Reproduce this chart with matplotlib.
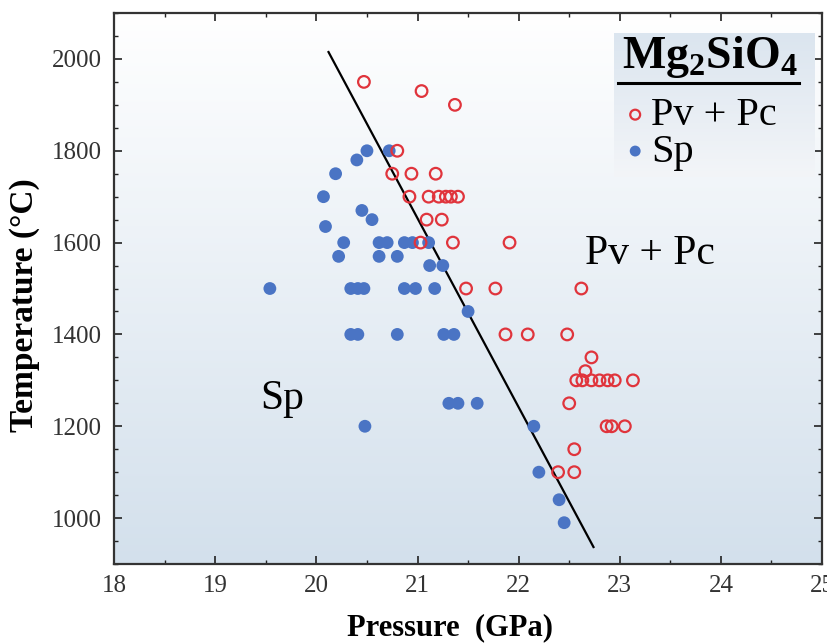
import matplotlib
matplotlib.use("Agg")
import matplotlib.pyplot as plt
import numpy as np
from matplotlib.colors import LinearSegmentedColormap
from matplotlib.ticker import MultipleLocator

plt.rcParams["font.family"] = ["Liberation Serif", "DejaVu Serif"]
plt.rcParams["mathtext.fontset"] = "custom"
plt.rcParams["mathtext.rm"] = "Liberation Serif"
plt.rcParams["mathtext.bf"] = "Liberation Serif:bold"

# Pv + Pc (open red circles)
pv_p = [20.47, 21.04, 21.37, 20.80,
        20.75, 20.94, 21.18,
        20.92, 21.11, 21.21, 21.28, 21.33, 21.40,
        21.09, 21.24,
        21.03, 21.35, 21.91,
        21.48, 21.77, 22.62,
        21.87, 22.09, 22.48,
        22.72, 22.66,
        22.57, 22.63, 22.72, 22.80, 22.88, 22.95, 23.13,
        22.50,
        22.87, 22.92, 23.05,
        22.55,
        22.39, 22.55]
pv_t = [1950, 1930, 1900, 1800,
        1750, 1750, 1750,
        1700, 1700, 1700, 1700, 1700, 1700,
        1650, 1650,
        1600, 1600, 1600,
        1500, 1500, 1500,
        1400, 1400, 1400,
        1350, 1320,
        1300, 1300, 1300, 1300, 1300, 1300, 1300,
        1250,
        1200, 1200, 1200,
        1150,
        1100, 1100]

# Sp (filled blue circles)
sp_p = [20.50, 20.72, 20.40,
        20.19, 20.07, 20.45, 20.55, 20.09,
        20.27, 20.62, 20.70, 20.87, 20.95, 21.11,
        20.22, 20.62, 20.80,
        21.12, 21.25,
        19.54, 20.34, 20.41, 20.47, 20.87, 20.98, 21.17,
        21.50,
        20.34, 20.41, 20.80, 21.26, 21.36,
        21.31, 21.40, 21.59,
        20.48, 22.15,
        22.20, 22.40, 22.45]
sp_t = [1800, 1800, 1780,
        1750, 1700, 1670, 1650, 1635,
        1600, 1600, 1600, 1600, 1600, 1600,
        1570, 1570, 1570,
        1550, 1550,
        1500, 1500, 1500, 1500, 1500, 1500, 1500,
        1450,
        1400, 1400, 1400, 1400, 1400,
        1250, 1250, 1250,
        1200, 1200,
        1100, 1040, 990]

# phase boundary
line_p = [20.12, 22.74]
line_t = [2015, 937]

red = "#e0343c"
blue = "#4a74c4"

fig = plt.figure(figsize=(8.27, 6.44), dpi=100)
ax = fig.add_axes([0.138, 0.1242, 0.856, 0.8556])

# background gradient, white at top, pale blue at bottom
cmap = LinearSegmentedColormap.from_list("bg", ["#d3e0ec", "#ffffff"])
grad = np.linspace(0, 1, 256).reshape(-1, 1)
ax.imshow(grad, cmap=cmap, origin="lower", extent=[18, 25, 900, 2100],
          aspect="auto", zorder=0)

ax.plot(line_p, line_t, color="black", lw=1.6, zorder=2)
ax.scatter(sp_p, sp_t, s=85, color=blue, edgecolors="none", zorder=3, label="Sp")
ax.scatter(pv_p, pv_t, s=70, facecolors="none", edgecolors=red, linewidths=1.6,
           zorder=4, label="Pv + Pc")

ax.text(19.66, 1260, "Sp", fontsize=30, ha="center", va="center")
ax.text(23.3, 1575, "Pv + Pc", fontsize=30, ha="center", va="center")

ax.set_xlim(18, 25)
ax.set_ylim(900, 2100)
ax.xaxis.set_major_locator(MultipleLocator(1))
ax.xaxis.set_minor_locator(MultipleLocator(0.5))
ax.yaxis.set_major_locator(MultipleLocator(200))
ax.yaxis.set_minor_locator(MultipleLocator(50))
ax.tick_params(which="both", direction="in", top=True, right=True,
               labelsize=18, labelcolor="#333333", color="#222222")
ax.tick_params(axis="x", which="both", pad=8)
ax.tick_params(axis="y", which="both", pad=8.5)
ax.tick_params(which="major", length=6, width=1.2)
ax.tick_params(which="minor", length=3, width=1)
for s in ax.spines.values():
    s.set_linewidth(1.6)
    s.set_color("#333333")

ax.set_xlabel("Pressure  (GPa)", fontsize=22, fontweight="bold")
ax.set_ylabel("Temperature (°C)", fontsize=24, fontweight="bold")
ax.xaxis.set_label_coords(0.475, -0.0885)
ax.yaxis.set_label_coords(-0.1045, 0.470)

# legend box: pale blue gradient panel, bold title with underline
lcmap = LinearSegmentedColormap.from_list("lbg", ["#f3f5f8", "#dbe5ef"])
ax.imshow(grad, cmap=lcmap, origin="lower", extent=[22.94, 24.92, 1743, 2056],
          aspect="auto", zorder=5)
ax.text(23.89, 1980, r"Mg$_\mathbf{2}$SiO$_\mathbf{4}$", fontsize=33,
        fontweight="bold", ha="center", va="baseline", zorder=6)
ax.plot([22.985, 24.77], [1947, 1947], color="black", lw=2.2, zorder=6)

handles, labels = ax.get_legend_handles_labels()
leg = ax.legend(handles[::-1], labels[::-1], loc="upper left",
                bbox_to_anchor=(0.7133, 0.8475), fontsize=29, frameon=False,
                borderpad=0, borderaxespad=0, handlelength=0.8,
                handletextpad=0.0, labelspacing=-0.02, markerscale=0.85)
leg.set_zorder(7)

fig.savefig("out.png", dpi=100)
